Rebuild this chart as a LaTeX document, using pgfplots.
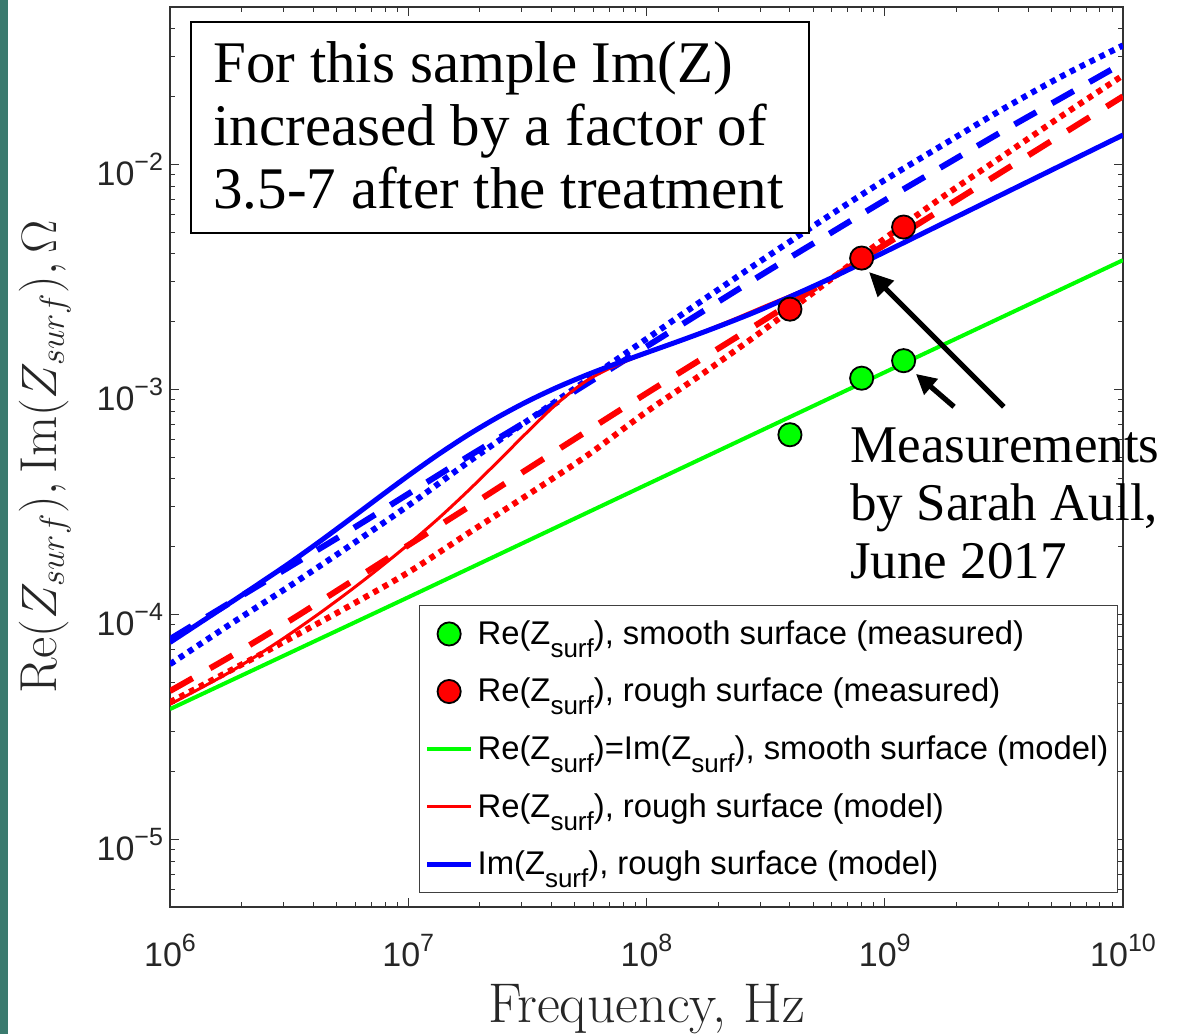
\documentclass[border=0pt]{standalone}
\usepackage{fontspec}
\usepackage{pgfplots}
\usepackage{pgfplotstable}
\pgfplotsset{compat=1.18}
\usetikzlibrary{arrows.meta}
\newfontfamily\sansf{Liberation Sans}
\newfontfamily\seriff{Liberation Serif}
\definecolor{mgreen}{RGB}{0,255,0}
\definecolor{mred}{RGB}{255,0,0}
\definecolor{mblue}{RGB}{0,0,255}
\definecolor{slide}{RGB}{58,122,110}
\newcommand{\surf}{\raisebox{-6.5pt}{\fontsize{13}{13}\selectfont surf}}
\newcommand{\tp}[1]{10\raisebox{7.5pt}{\fontsize{12.5}{12.5}\selectfont #1}}
\newcommand{\legf}{\sansf\fontsize{16.4}{18}\selectfont}

% rough-surface model (solid lines), eighth-decade steps up to 3e8
\pgfplotstableread{
f        bs        rs
1e6      7.499e-5  3.981e-5
1.334e6  9.162e-5  4.677e-5
1.778e6  1.119e-4  5.527e-5
2.371e6  1.371e-4  6.653e-5
3.162e6  1.684e-4  8.128e-5
4.217e6  2.093e-4  1.006e-4
5.623e6  2.622e-4  1.259e-4
7.499e6  3.296e-4  1.594e-4
1e7      4.129e-4  2.042e-4
1.334e7  5.125e-4  2.657e-4
1.778e7  6.260e-4  3.527e-4
2.371e7  7.504e-4  4.758e-4
3.162e7  8.831e-4  6.457e-4
4.217e7  1.020e-3  8.648e-4
5.623e7  1.159e-3  1.094e-3
7.499e7  1.302e-3  1.281e-3
1e8      1.454e-3  1.445e-3
1.334e8  1.621e-3  1.622e-3
1.778e8  1.812e-3  1.825e-3
2.371e8  2.037e-3  2.065e-3
3.162e8  2.308e-3  2.350e-3
5.623e8  3.034e-3  3.034e-3
1e9      4.074e-3  4.074e-3
1.778e9  5.495e-3  5.495e-3
3.162e9  7.413e-3  7.413e-3
5.623e9  1.000e-2  1.000e-2
1e10     1.349e-2  1.349e-2
}\roughmodel

% other model cases (dotted / dashed)
\pgfplotstableread{
f        bdot      bdash     rdot      rdash
1e6      6.000e-5  7.76e-5   4.07e-5   4.56e-5
1.778e6  8.990e-5  1.122e-4  5.598e-5  6.457e-5
3.162e6  1.330e-4  1.622e-4  7.762e-5  9.333e-5
5.623e6  2.000e-4  2.344e-4  1.084e-4  1.374e-4
1e7      3.041e-4  3.428e-4  1.535e-4  2.028e-4
1.778e7  4.732e-4  5.012e-4  2.286e-4  2.985e-4
3.162e7  7.244e-4  7.244e-4  3.388e-4  4.416e-4
5.623e7  1.099e-3  1.059e-3  5.070e-4  6.516e-4
1e8      1.675e-3  1.549e-3  7.943e-4  9.594e-4
1.778e8  2.547e-3  2.265e-3  1.202e-3  1.403e-3
3.162e8  3.846e-3  3.311e-3  1.862e-3  2.051e-3
5.623e8  5.754e-3  4.786e-3  2.951e-3  2.999e-3
1e9      8.511e-3  6.918e-3  4.677e-3  4.385e-3
1.778e9  1.230e-2  9.886e-3  7.244e-3  6.412e-3
3.162e9  1.770e-2  1.413e-2  1.096e-2  9.376e-3
5.623e9  2.483e-2  1.995e-2  1.660e-2  1.371e-2
1e10     3.373e-2  2.818e-2  2.483e-2  2.004e-2
}\curves

\pgfplotstableread{
f      z
1e6    3.79e-5
1e7    1.19e-4
1e8    3.77e-4
1e9    1.19e-3
1e10   3.75e-3
}\smoothmodel

\pgfplotstableread{
f      z
4e8    6.28e-4
8e8    1.12e-3
1.2e9  1.34e-3
}\smoothmeas

\pgfplotstableread{
f      z
4e8    2.27e-3
8e8    3.83e-3
1.2e9  5.26e-3
}\roughmeas

\begin{document}
\begin{tikzpicture}
\begin{axis}[
  scale only axis, width=476.5pt, height=450pt,
  xmode=log, ymode=log,
  xmin=1e6, xmax=1e10, ymin=5e-6, ymax=5e-2,
  xtick={1e6,1e7,1e8,1e9,1e10},
  xticklabels={\tp{6},\tp{7},\tp{8},\tp{9},\tp{10}},
  minor xtick={2e6,3e6,4e6,5e6,6e6,7e6,8e6,9e6,2e7,3e7,4e7,5e7,6e7,7e7,8e7,9e7,
    2e8,3e8,4e8,5e8,6e8,7e8,8e8,9e8,2e9,3e9,4e9,5e9,6e9,7e9,8e9,9e9},
  ytick={1e-5,1e-4,1e-3,1e-2},
  yticklabels={\tp{−5},\tp{−4},\tp{−3},\tp{−2}},
  minor ytick={6e-6,7e-6,8e-6,9e-6,2e-5,3e-5,4e-5,5e-5,6e-5,7e-5,8e-5,9e-5,
    2e-4,3e-4,4e-4,5e-4,6e-4,7e-4,8e-4,9e-4,2e-3,3e-3,4e-3,5e-3,6e-3,7e-3,8e-3,9e-3,
    2e-2,3e-2,4e-2},
  ticklabel style={font=\sansf\fontsize{17}{18}\selectfont, text=black!85},
  xticklabel style={anchor=base, yshift=-29.5pt},
  yticklabel style={yshift=-2.5pt},
  major tick length=4.5pt, minor tick length=2.5pt,
  tick style={black!80, line width=0.5pt},
  axis line style={black!80, line width=0.7pt},
  xlabel={Frequency, Hz},
  xlabel style={font=\fontsize{28}{30}\selectfont, text=black!85,
    at={(axis description cs:0.5,-0.1278)}, anchor=base},
  ylabel={$\mathrm{Re}(Z_{surf}),\mathrm{Im}(Z_{surf}),\Omega$},
  ylabel style={font=\fontsize{26}{28}\selectfont, text=black!85,
    at={(axis description cs:-0.1312,0.5)}, anchor=center},
  legend image code/.code={\draw[mark repeat=2,mark phase=2,#1]
    plot coordinates {(0pt,0pt) (11pt,0pt) (22pt,0pt)};},
  legend style={at={(rel axis cs:0.2613,0.3356)}, anchor=north west,
    draw=black!75, line width=0.6pt, font=\legf,
    inner xsep=2.5pt, inner ysep=5.5pt, row sep=11.4pt, column sep=0pt,
    nodes={inner sep=2pt}},
  legend cell align=left,
  clip mode=individual,
]
\addlegendimage{only marks, mark=*, mark size=5.8pt,
  mark options={fill=mgreen, draw=black, line width=0.9pt}}
\addlegendentry{Re(Z\surf), smooth surface (measured)}
\addlegendimage{only marks, mark=*, mark size=5.8pt,
  mark options={fill=mred, draw=black, line width=0.9pt}}
\addlegendentry{Re(Z\surf), rough surface (measured)}

\addplot[mgreen, line width=2pt] table[x=f, y=z] {\smoothmodel};
\addlegendentry{Re(Z\surf)=Im(Z\surf), smooth surface (model)}

% other roughness cases, not in the legend
\addplot[forget plot, mred, line width=3pt, dash pattern=on 2.8pt off 2.7pt, smooth]
  table[x=f, y=rdot] {\curves};
\addplot[forget plot, mred, line width=3pt, dash pattern=on 13pt off 10pt, smooth]
  table[x=f, y=rdash] {\curves};
\addplot[forget plot, mblue, line width=3pt, dash pattern=on 2.8pt off 2.7pt, smooth]
  table[x=f, y=bdot] {\curves};
\addplot[forget plot, mblue, line width=3pt, dash pattern=on 12.5pt off 9pt, smooth]
  table[x=f, y=bdash] {\curves};

\addplot[mred, line width=1.5pt, smooth] table[x=f, y=rs] {\roughmodel};
\addlegendentry{Re(Z\surf), rough surface (model)}
\addplot[mblue, line width=2.5pt, smooth] table[x=f, y=bs] {\roughmodel};
\addlegendentry{Im(Z\surf), rough surface (model)}

\addplot[forget plot, only marks, mark=*, mark size=5.8pt,
  mark options={fill=mgreen, draw=black, line width=0.9pt}]
  table[x=f, y=z] {\smoothmeas};
\addplot[forget plot, only marks, mark=*, mark size=5.8pt,
  mark options={fill=mred, draw=black, line width=0.9pt}]
  table[x=f, y=z] {\roughmeas};

\coordinate (boxnw) at (rel axis cs:0.022,0.9833);
\coordinate (boxse) at (rel axis cs:0.6705,0.7489);
\coordinate (boxtxt) at (rel axis cs:0.0451,0.962);
\coordinate (meas) at (rel axis cs:0.7135,0.5333);
\coordinate (a1s) at (axis cs:3.16e9,8.36e-4);
\coordinate (a1e) at (axis cs:8.59e8,3.32e-3);
\coordinate (a2s) at (axis cs:1.954e9,8.36e-4);
\coordinate (a2e) at (axis cs:1.352e9,1.17e-3);
\end{axis}

\draw[black, line width=0.8pt, fill=white] (boxnw) rectangle (boxse);
\node[anchor=north west, inner sep=0pt, align=left,
  font=\seriff\fontsize{29.5}{31.5}\selectfont] at (boxtxt)
  {For this sample Im(Z)\\increased by a factor of\\3.5-7 after the treatment};
\node[anchor=north west, inner sep=0pt, align=left,
  font=\seriff\fontsize{26.5}{29}\selectfont] at (meas)
  {Measurements\\by Sarah Aull,\\June 2017};
\draw[black, line width=2.6pt, -{Triangle[length=12pt,width=11pt]}] (a1s) -- (a1e);
\draw[black, line width=2.6pt, -{Triangle[length=10pt,width=10pt]}] (a2s) -- (a2e);

\fill[slide] (-85pt,-63.5pt) rectangle (-81pt,453.5pt);
\pgfresetboundingbox
\path[use as bounding box] (-85pt,-63.5pt) rectangle (510.5pt,453.5pt);
\end{tikzpicture}
\end{document}
